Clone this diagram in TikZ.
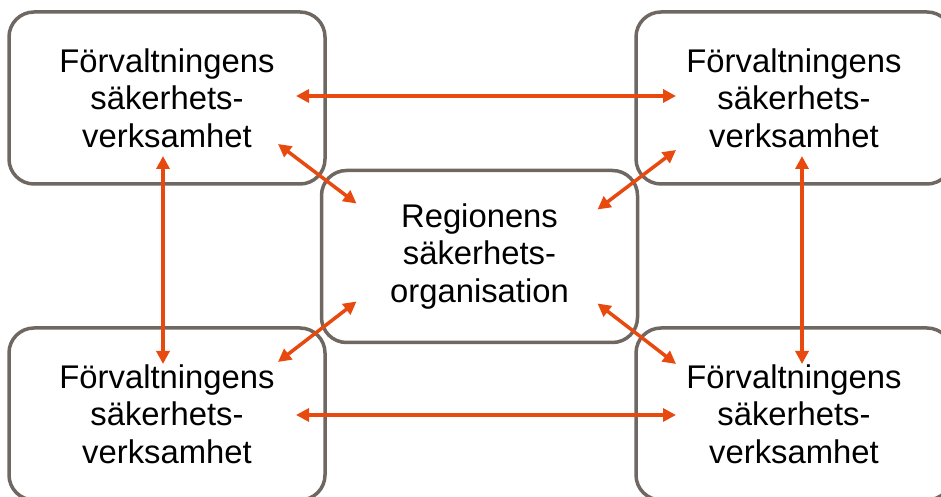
\documentclass[tikz,border=0pt]{standalone}
\usepackage{fontspec}
\setmainfont{Liberation Sans}
\usepackage{xcolor}
\usetikzlibrary{arrows.meta, positioning}

\definecolor{boxgray}{HTML}{6F6761}
\definecolor{linkorange}{HTML}{E8490F}

\begin{document}
\begin{tikzpicture}[x=1pt, y=1pt,
    box/.style={rectangle, draw=boxgray, line width=3.5pt, rounded corners=25pt,
        minimum width=316pt, minimum height=172pt, outer sep=0pt, align=center,
        font=\fontsize{32.8}{37.5}\selectfont},
    link/.style={draw=linkorange, line width=3.5pt,
        {Triangle[length=13pt, width=13pt]}-{Triangle[length=13pt, width=13pt]}}]
    \useasboundingbox (0,0) rectangle (941,497);
    \clip (0,0) rectangle (941,497);

    \node[box] (tl) at (167,399) {Förvaltningens\\säkerhets-\\verksamhet};
    \node[box] (tr) at (794,399) {Förvaltningens\\säkerhets-\\verksamhet};
    \node[box] (c) at (479.5,240.5) {Regionens\\säkerhets-\\organisation};
    \node[box] (bl) at (167,83) {Förvaltningens\\säkerhets-\\verksamhet};
    \node[box] (br) at (794,83) {Förvaltningens\\säkerhets-\\verksamhet};

    \draw[link] ([shift={(-29,2)}]tl.east) -- ([shift={(40,2)}]tr.west);
    \draw[link] ([shift={(-29,-1)}]bl.east) -- ([shift={(40,-1)}]br.west);
    \draw[link] ([shift={(-4,28)}]tl.south) -- ([shift={(-4,-36)}]bl.north);
    \draw[link] ([shift={(8,28)}]tr.south) -- ([shift={(8,-36)}]br.north);

    \draw[link] ([shift={(-47,40)}]tl.south east) -- ([shift={(35,-33)}]c.north west);
    \draw[link] ([shift={(40,34)}]tr.south west) -- ([shift={(-40,-39)}]c.north east);
    \draw[link] ([shift={(35,41)}]c.south west) -- ([shift={(-47,-34)}]bl.north east);
    \draw[link] ([shift={(-40,39)}]c.south east) -- ([shift={(40,-36)}]br.north west);
\end{tikzpicture}
\end{document}
